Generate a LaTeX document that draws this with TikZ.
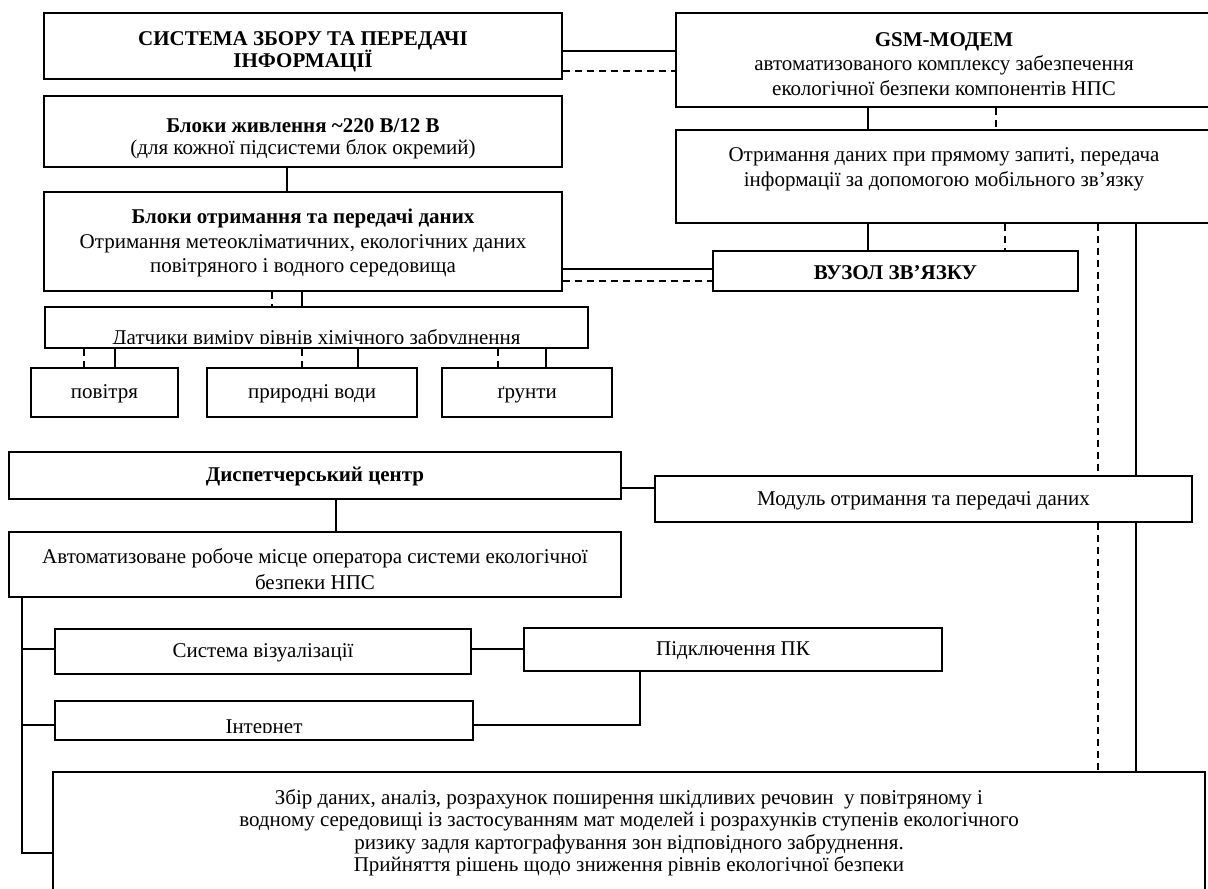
\documentclass[tikz,border=0pt]{standalone}
\usepackage{fontspec}
\setmainfont{Liberation Serif}
\usepackage{tikz}

\begin{document}
\begin{tikzpicture}[x=1pt, y=-1pt, line width=1.2pt,
txt/.style={font=\fontsize{21}{24.5}\selectfont},
box/.style 2 args={draw, fill=white, txt, align=center, inner sep=0pt, minimum width=#1, minimum height=#2},
one/.style={text height=16pt, text depth=4pt},
dsh/.style={dash pattern=on 7pt off 5pt}]
\useasboundingbox (0,0) rectangle (1208,889);
\clip (0,0) rectangle (1208,889);
\node[box={518}{66}] (sys) at (303,46) {\rule{0pt}{25.5pt}\textbf{СИСТЕМА ЗБОРУ ТА ПЕРЕДАЧІ}\\[-2.5pt]\textbf{ІНФОРМАЦІЇ}};
\node[box={536}{94}] (gsm) at (944,60) {\rule{0pt}{22pt}\textbf{GSM-МОДЕМ}\\автоматизованого комплексу забезпечення\\екологічної безпеки компонентів НПС};
\node[box={518}{71}] (zhyv) at (303,131.5) {\rule{0pt}{28.5pt}\textbf{Блоки живлення \textasciitilde220 В/12 В}\\[-2pt](для кожної підсистеми блок окремий)};
\node[box={536}{93}] (zapyt) at (944,176.5) {Отримання даних при прямому запиті, передача\\інформації за допомогою мобільного зв’язку\\[-6pt]\mbox{}};
\node[box={518}{99}] (blok) at (303,241.5) {\rule{0pt}{18pt}\textbf{Блоки отримання та передачі даних}\\Отримання метеокліматичних, екологічних даних\\повітряного і водного середовища};
\node[box={365}{40}, text height=17pt, text depth=1pt] (vuzol) at (895.5,271) {\textbf{ВУЗОЛ ЗВ’ЯЗКУ}};
\node[box={543}{41}] (dat) at (316.5,327.5) {};
\begin{scope}
\clip (dat.north west) rectangle (dat.east |- 0,343);
\node[txt, anchor=base, inner sep=0pt] (datt) at (316.5,344) {Датчики виміру рівнів хімічного забруднення};
\end{scope}
\node[box={147}{49}, one] (pov) at (104.5,392.5) {повітря};
\node[box={210}{49}, one] (vod) at (312,392.5) {природні води};
\node[box={170}{49}, one] (grunt) at (527,392.5) {ґрунти};
\node[box={612}{47}, one] (disp) at (315,475.5) {\textbf{Диспетчерський центр}};
\node[box={537}{46}, one] (modul) at (923.5,499) {Модуль отримання та передачі даних};
\node[box={612}{65}] (arm) at (315,564.5) {\rule{0pt}{24pt}Автоматизоване робоче місце оператора системи екологічної\\[1pt]безпеки НПС};
\node[box={416}{45}, one] (viz) at (263,651.5) {Система візуалізації};
\node[box={418}{43}, one] (pk) at (733,649.5) {Підключення ПК};
\node[box={418}{39}] (inet) at (264,720.5) {};
\begin{scope}
\clip (inet.north west) rectangle (inet.east |- 0,732);
\node[txt, anchor=base, inner sep=0pt] (inett) at (264,733) {Інтернет};
\end{scope}
\node[box={1152}{121}, font=\fontsize{21}{22.5}\selectfont] (zbir) at (629,832.5) {Збір даних, аналіз, розрахунок поширення шкідливих речовин~ у повітряному і\\водному середовищі із застосуванням мат моделей і розрахунків ступенів екологічного\\ризику задля картографування зон відповідного забруднення.\\Прийняття рішень щодо зниження рівнів екологічної безпеки};
\draw (sys.east |- 0,51) -- (gsm.west |- 0,51);
\draw[dsh] (sys.east |- 0,71) -- (gsm.west |- 0,71);
\draw (gsm.south -| 868,0) -- (zapyt.north -| 868,0);
\draw[dsh] (gsm.south -| 996,0) -- (zapyt.north -| 996,0);
\draw (zhyv.south -| 287,0) -- (blok.north -| 287,0);
\draw (zapyt.south -| 868,0) -- (vuzol.north -| 868,0);
\draw[dsh] (zapyt.south -| 1005,0) -- (vuzol.north -| 1005,0);
\draw (blok.east |- 0,269) -- (vuzol.west |- 0,269);
\draw[dsh] (blok.east |- 0,281) -- (vuzol.west |- 0,281);
\draw[dsh] (blok.south -| 272,0) -- (dat.north -| 272,0);
\draw (blok.south -| 302,0) -- (dat.north -| 302,0);
\foreach \n/\a/\b in {pov/84/115, vod/302/358, grunt/498/546} {
\draw[dsh] (dat.south -| \a,0) -- (\n.north -| \a,0);
\draw (dat.south -| \b,0) -- (\n.north -| \b,0);
}
\draw[dsh] (zapyt.south -| 1098,0) -- (modul.north -| 1098,0);
\draw (zapyt.south -| 1136,0) -- (modul.north -| 1136,0);
\draw[dsh] (modul.south -| 1098,0) -- (zbir.north -| 1098,0);
\draw (modul.south -| 1136,0) -- (zbir.north -| 1136,0);
\draw (disp.east |- 0,488) -- (modul.west |- 0,488);
\draw (disp.south -| 336,0) -- (arm.north -| 336,0);
\draw (arm.south -| 22,0) |- (viz.west |- 0,649);
\draw (arm.south -| 22,0) |- (inet.west |- 0,725);
\draw (arm.south -| 22,0) |- (zbir.west |- 0,853);
\draw (viz.east |- 0,649) -- (pk.west |- 0,649);
\draw (pk.south -| 640,0) |- (inet.east |- 0,725);
\end{tikzpicture}
\end{document}
